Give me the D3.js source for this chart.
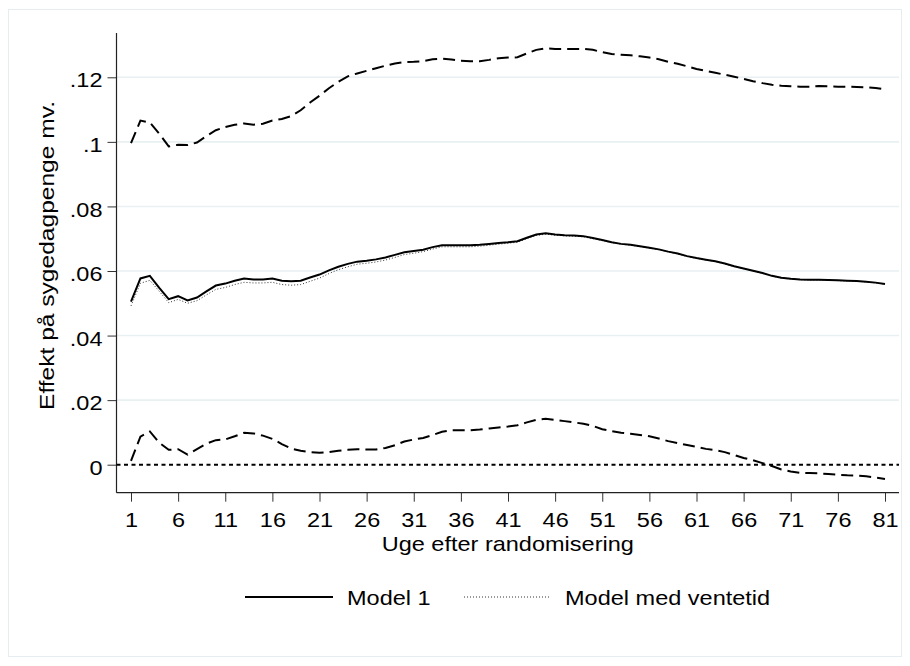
<!DOCTYPE html>
<html><head><meta charset="utf-8">
<script src="https://cdn.jsdelivr.net/npm/d3@7"></script>
<style>body{margin:0;background:#fff} svg{display:block} text{font-family:"Liberation Sans",Arial,sans-serif;fill:#000}</style>
</head><body><svg id="c" width="910" height="666"></svg>
<script>
const weeks = [1,2,3,4,5,6,7,8,9,10,11,12,13,14,15,16,17,18,19,20,21,22,23,24,25,26,27,28,29,30,31,32,33,34,35,36,37,38,39,40,41,42,43,44,45,46,47,48,49,50,51,52,53,54,55,56,57,58,59,60,61,62,63,64,65,66,67,68,69,70,71,72,73,74,75,76,77,78,79,80,81];
const upperCI = [.0996,.1066,.1060,.1025,.0986,.0991,.0990,.0998,.1018,.1036,.1046,.1053,.1057,.1053,.1056,.1066,.1071,.1080,.1098,.1122,.1143,.1166,.1186,.1203,.1212,.1220,.1228,.1236,.1243,.1247,.1248,.1250,.1256,.1258,.1255,.1251,.1250,.1250,.1254,.1259,.1261,.1262,.1274,.1285,.1290,.1288,.1288,.1288,.1288,.1285,.1278,.1272,.1270,.1268,.1265,.1261,.1256,.1248,.1242,.1234,.1226,.1220,.1214,.1208,.1202,.1195,.1188,.1182,.1177,.1174,.1172,.1171,.1171,.1173,.1172,.1171,.1171,.1170,.1169,.1167,.1163];
const model1 = [.0505,.0577,.0585,.0548,.0513,.0522,.0509,.0518,.0537,.0555,.0561,.0570,.0577,.0574,.0574,.0577,.0570,.0568,.0570,.0580,.0589,.0602,.0613,.0622,.0629,.0632,.0636,.0642,.0650,.0658,.0662,.0666,.0674,.0680,.0680,.0680,.0680,.0681,.0684,.0687,.0689,.0692,.0703,.0713,.0717,.0713,.0711,.0710,.0708,.0702,.0696,.0689,.0684,.0681,.0677,.0672,.0667,.0660,.0654,.0646,.0640,.0635,.0630,.0623,.0615,.0608,.0601,.0594,.0585,.0579,.0576,.0574,.0573,.0573,.0572,.0571,.0570,.0569,.0567,.0564,.0560];
const modelVentetid = [.0492,.0562,.0571,.0537,.0502,.0512,.0500,.0508,.0526,.0543,.0549,.0558,.0565,.0563,.0563,.0565,.0558,.0556,.0558,.0568,.0578,.0592,.0604,.0613,.0621,.0624,.0628,.0634,.0642,.0651,.0655,.0660,.0668,.0675,.0675,.0675,.0675,.0677,.0680,.0683,.0686,.0689,.0700,.0710,.0714,.0711,.0709,.0708,.0706,.0700,.0694,.0688,.0683,.0680,.0676,.0671,.0666,.0659,.0653,.0645,.0639,.0634,.0629,.0622,.0614,.0607,.0600,.0593,.0584,.0578,.0575,.0573,.0572,.0572,.0571,.0570,.0569,.0568,.0566,.0563,.0559];
const lowerCI = [.0012,.0087,.0103,.0068,.0046,.0048,.0031,.0048,.0065,.0076,.0078,.0088,.0099,.0097,.0090,.0080,.0064,.0050,.0043,.0039,.0037,.0039,.0043,.0046,.0048,.0047,.0047,.0052,.0060,.0072,.0078,.0083,.0092,.0102,.0107,.0107,.0107,.0109,.0112,.0115,.0118,.0122,.0131,.0139,.0142,.0139,.0135,.0131,.0127,.0120,.0110,.0104,.0099,.0096,.0092,.0088,.0081,.0073,.0067,.0061,.0055,.0049,.0045,.0039,.0030,.0021,.0014,.0005,-.0004,-.0015,-.0021,-.0025,-.0026,-.0027,-.0029,-.0031,-.0033,-.0034,-.0036,-.0040,-.0044];
const yTickValues = [0,.02,.04,.06,.08,.1,.12];
const yTickLabels = ["0",".02",".04",".06",".08",".1",".12"];
const xTickValues = [1,6,11,16,21,26,31,36,41,46,51,56,61,66,71,76,81];
const xTitle = "Uge efter randomisering";
const yTitle = "Effekt på sygedagpenge mv.";
const legendLabels = ["Model 1","Model med ventetid"];

const FS = 21, SX = 1.12;
const svg = d3.select("#c");
const x = d3.scaleLinear().domain([1,81]).range([131,885]);
const y = d3.scaleLinear().domain([0,.12]).range([464.7,77.3]);
const plotL = 116.5, plotR = 899, plotT = 33, plotB = 492.7;

// outer frame
svg.append("rect").attr("x",8.5).attr("y",9.5).attr("width",893).attr("height",647)
  .attr("fill","#fff").attr("stroke","#e6edf0").attr("stroke-width",1);

// gridlines
svg.append("g").selectAll("line").data(yTickValues.filter(v=>v>0)).join("line")
  .attr("x1",plotL).attr("x2",plotR).attr("y1",d=>y(d)).attr("y2",d=>y(d))
  .attr("stroke","#e9f0f2").attr("stroke-width",1.6);

// y axis
const yAxis = svg.append("g").attr("transform",`translate(${plotL},0)`)
  .call(d3.axisLeft(y).tickValues(yTickValues).tickFormat((d,i)=>yTickLabels[i]).tickSize(9).tickPadding(5));
yAxis.select(".domain").remove();
yAxis.selectAll("text").attr("font-size",FS).attr("font-family","Liberation Sans, Arial, sans-serif").attr("fill","#000")
  .attr("x",-14/SX).attr("dy","0.46em").attr("transform",`scale(${SX},1)`);
yAxis.selectAll("line").attr("stroke","#333");
svg.append("line").attr("x1",plotL).attr("x2",plotL).attr("y1",plotT).attr("y2",plotB).attr("stroke","#222").attr("stroke-width",1.2);

// x axis
const xAxis = svg.append("g").attr("transform",`translate(0,${plotB})`)
  .call(d3.axisBottom(x).tickValues(xTickValues).tickFormat(d3.format("d")).tickSize(9).tickPadding(10));
xAxis.select(".domain").remove();
xAxis.selectAll("text").attr("font-size",FS).attr("font-family","Liberation Sans, Arial, sans-serif").attr("fill","#000")
  .attr("transform",`scale(${SX},1)`);
xAxis.selectAll("line").attr("stroke","#333");
svg.append("line").attr("x1",plotL).attr("x2",plotR).attr("y1",plotB).attr("y2",plotB).attr("stroke","#222").attr("stroke-width",1.2);

// zero reference line
svg.append("line").attr("x1",plotL).attr("x2",plotR).attr("y1",y(0)).attr("y2",y(0))
  .attr("stroke","#000").attr("stroke-width",2).attr("stroke-dasharray","4,3.5");

const line = vals => d3.line().x((d,i)=>x(weeks[i])).y(d=>y(d))(vals);
svg.append("path").attr("d",line(upperCI)).attr("fill","none").attr("stroke","#000").attr("stroke-width",2).attr("stroke-dasharray","12,6");
svg.append("path").attr("d",line(lowerCI)).attr("fill","none").attr("stroke","#000").attr("stroke-width",2).attr("stroke-dasharray","12,6");
svg.append("path").attr("d",line(modelVentetid)).attr("fill","none").attr("stroke","#333").attr("stroke-width",1).attr("stroke-dasharray","1,2");
svg.append("path").attr("d",line(model1)).attr("fill","none").attr("stroke","#000").attr("stroke-width",2);

// titles
svg.append("text").attr("transform",`translate(${(plotL+plotR)/2},551) scale(${SX},1)`).attr("text-anchor","middle").attr("font-size",FS).text(xTitle);
svg.append("text").attr("transform",`translate(54,255.5) rotate(-90) scale(1.17,1)`).attr("text-anchor","middle").attr("font-size",FS).text(yTitle);

// legend
const lg = svg.append("g");
lg.append("line").attr("x1",245).attr("x2",333).attr("y1",597).attr("y2",597).attr("stroke","#000").attr("stroke-width",2);
lg.append("text").attr("transform",`translate(347,604.5) scale(${SX},1)`).attr("font-size",FS).text(legendLabels[0]);
lg.append("line").attr("x1",464).attr("x2",551).attr("y1",597).attr("y2",597).attr("stroke","#333").attr("stroke-width",1).attr("stroke-dasharray","1,2");
lg.append("text").attr("transform",`translate(565,604.5) scale(${SX},1)`).attr("font-size",FS).text(legendLabels[1]);
</script></body></html>
